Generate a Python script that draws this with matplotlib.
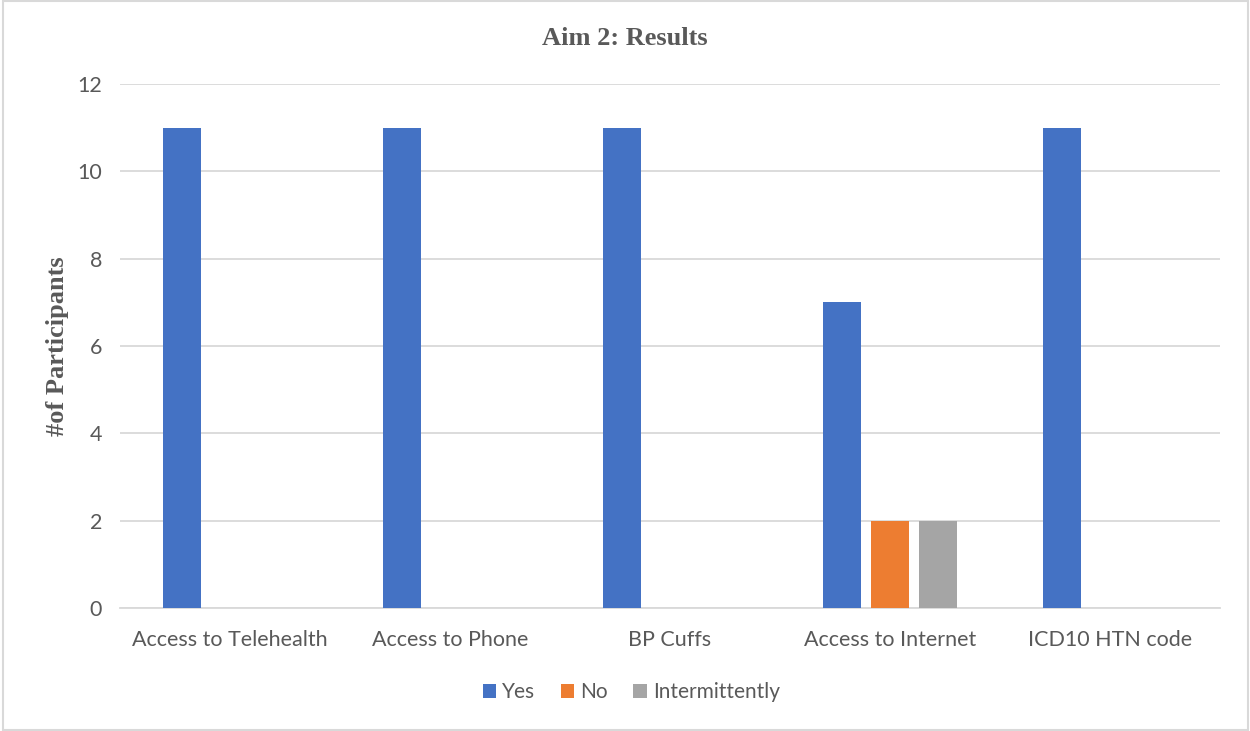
import numpy as np
import matplotlib.pyplot as plt
from matplotlib.patches import Rectangle

categories = ['Access to Telehealth', 'Access to Phone', 'BP Cuffs',
              'Access to Internet', 'ICD10 HTN code']
yes = [11, 11, 11, 7, 11]
no = [0, 0, 0, 2, 0]
intermittently = [0, 0, 0, 2, 0]
series = [('Yes', yes, '#4472C4'),
          ('No', no, '#ED7D31'),
          ('Intermittently', intermittently, '#A5A5A5')]

txt = '#595959'
plt.rcParams['font.family'] = ['Lato', 'DejaVu Sans']

fig = plt.figure(figsize=(12.5, 7.31), dpi=100)
ax = fig.add_axes([0.096, 0.168, 0.88, 0.717])

x = np.arange(len(categories))
w = 0.173
offs = [-0.218, 0, 0.218]
for (name, vals, col), o in zip(series, offs):
    ax.bar(x + o, vals, width=w, color=col, label=name, zorder=3)

ax.set_xlim(-0.5, len(categories) - 0.5)
ax.set_ylim(0, 12)
ax.set_yticks(range(0, 13, 2))
ax.set_xticks(x)
ax.set_xticklabels(categories)
ax.tick_params(axis='both', length=0, labelsize=15.5, colors=txt)
ax.tick_params(axis='x', pad=16)
ax.tick_params(axis='y', pad=13)
ax.grid(axis='y', color='#D9D9D9', linewidth=1.3, zorder=0)
for s in ['top', 'right', 'left']:
    ax.spines[s].set_visible(False)
ax.spines['bottom'].set_color('#D9D9D9')
ax.spines['bottom'].set_linewidth(1.3)

ax.set_ylabel('#of Participants', family='Liberation Serif', fontweight='bold',
              fontsize=19, color=txt, labelpad=6)
fig.text(0.5, 0.947, 'Aim 2: Results', family='Liberation Serif',
         fontweight='bold', fontsize=19, color=txt, ha='center', va='center')

leg = fig.legend(loc='center', bbox_to_anchor=(0.505, 0.053), ncol=3,
                 frameon=False, fontsize=15, handlelength=0.65,
                 handleheight=0.65, handletextpad=0.3, columnspacing=1.2)
for t in leg.get_texts():
    t.set_color(txt)

fig.patches.append(Rectangle((0.002, 0.002), 0.996, 0.996, transform=fig.transFigure,
                             fill=False, edgecolor='#D9D9D9', linewidth=1.5))

fig.savefig('out.png', dpi=100)
